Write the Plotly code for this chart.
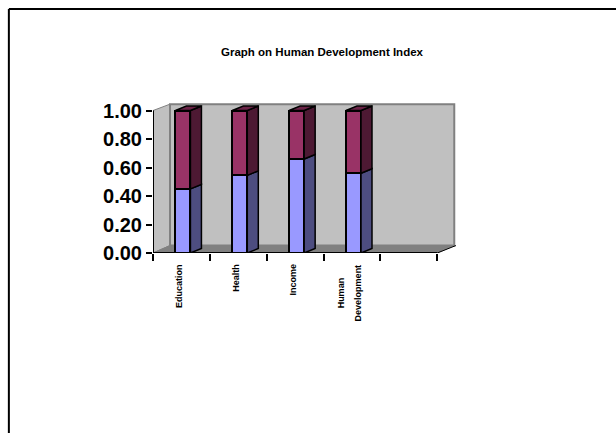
import plotly.graph_objects as go

categories = ["Education", "Health", "Income", "Human<br>Development"]
series_a = [0.45, 0.545, 0.66, 0.56]
series_b = [0.55, 0.455, 0.34, 0.44]
y_ticks = [0.0, 0.2, 0.4, 0.6, 0.8, 1.0]
slots = [0, 1, 2, 3, 4, 5]

UX, UY = 56.8, 142.8          # px per data unit
DX, DY = 11 / UX, 4.5 / UY    # bar depth
WX, WY = 17 / UX, 7.5 / UY    # wall depth
BW = 15 / UX
XMAX, YMAX = 5.4, 1.06
PW, PH = XMAX * UX, YMAX * UY
centers = [i + 0.5 + 1.5 / UX for i in range(len(categories))]

FRONT_A, SIDE_A, FRONT_B, SIDE_B, TOP_B = "#9999ff", "#4d4d80", "#993366", "#4d1933", "#6b2347"

fig = go.Figure()
fig.add_bar(x=centers, y=series_a, width=BW, marker=dict(color=FRONT_A, line=dict(color="black", width=2)), showlegend=False)
fig.add_bar(x=centers, y=series_b, width=BW, marker=dict(color=FRONT_B, line=dict(color="black", width=2)), showlegend=False)


def poly(xs, ys, color):
    fig.add_scatter(x=xs, y=ys, mode="lines", fill="toself", fillcolor=color,
                    line=dict(color="black", width=1.5), showlegend=False, hoverinfo="skip")


for c, a, b in zip(centers, series_a, series_b):
    r = c + BW / 2
    l = c - BW / 2
    poly([r, r + DX, r + DX, r, r], [0, DY, a + DY, a, 0], SIDE_A)
    poly([r, r + DX, r + DX, r, r], [a, a + DY, a + b + DY, a + b, a], SIDE_B)
    poly([l, r, r + DX, l + DX, l], [a + b, a + b, a + b + DY, a + b + DY, a + b], TOP_B)

WTOP = 1.045
shapes = [
    # side wall, back wall, floor
    dict(type="path", path=f"M 0 0 L {WX} {WY} L {WX} {WTOP} L 0 1 Z", fillcolor="#c0c0c0",
         line=dict(color="#808080", width=1), layer="below", xref="x", yref="y"),
    dict(type="rect", x0=WX, x1=5 + WX, y0=WY, y1=WTOP, fillcolor="#c0c0c0",
         line=dict(color="#808080", width=2), layer="below", xref="x", yref="y"),
    dict(type="path", path=f"M 0 0 L {WX} {WY} L {5+WX} {WY} L 5 0 Z", fillcolor="#808080",
         line=dict(color="#808080", width=1), layer="below", xref="x", yref="y"),
    # axis lines
    dict(type="line", x0=0, x1=0, y0=0, y1=1, line=dict(color="black", width=2), xref="x", yref="y", layer="above"),
    dict(type="line", x0=0, x1=5, y0=0, y1=0, line=dict(color="black", width=2), xref="x", yref="y", layer="above"),
    dict(type="line", x0=5, x1=5 + 1.1 * WX, y0=0, y1=WY, line=dict(color="black", width=1), xref="x", yref="y", layer="above"),
    # outer frame
    dict(type="line", xref="paper", yref="paper", x0=-144 / PW, x1=(616 - 153) / PW,
         y0=(253.5 - 9) / PH, y1=(253.5 - 9) / PH, line=dict(color="black", width=2)),
    dict(type="line", xref="paper", yref="paper", x0=-144 / PW, x1=-144 / PW,
         y0=(253.5 - 9) / PH, y1=(253.5 - 434) / PH, line=dict(color="black", width=2)),
]

annotations = []
for i, cat in enumerate(categories):
    lines = cat.split("<br>")
    for j, line in enumerate(lines):
        single = len(lines) == 1
        if single:
            shift, yshift_px, anchor = -2, -262, "top"
        else:
            shift, yshift_px, anchor = -3 + (j - 0.5) * 17, -293.5, "middle"
        annotations.append(dict(
            text=f"<b>{line}</b>", textangle=-90, showarrow=False,
            xref="x", yref="paper", x=i + 0.5 + shift / UX, y=(253.5 + yshift_px) / PH,
            xanchor="center", yanchor=anchor, font=dict(size=9, family="Liberation Sans", color="black"),
        ))

fig.update_layout(
    width=616, height=434, autosize=False,
    margin=dict(l=153, r=616 - 153 - PW, t=253.5 - PH, b=434 - 253.5, pad=0),
    paper_bgcolor="white", plot_bgcolor="rgba(0,0,0,0)",
    barmode="stack", showlegend=False, bargap=0,
    font=dict(family="Liberation Sans", color="black"),
    title=dict(text="<b>Graph on Human Development Index</b>", font=dict(size=11.5), x=322 / 616, xanchor="center",
               y=1 - 52 / 434, yanchor="middle"),
    shapes=shapes,
    annotations=annotations,
    xaxis=dict(range=[0, XMAX], showgrid=False, zeroline=False, showline=False,
               tickmode="array", tickvals=slots, ticktext=[""] * len(slots),
               ticks="outside", ticklen=7, tickwidth=2, tickcolor="black"),
    yaxis=dict(range=[0, YMAX], showgrid=False, zeroline=False, showline=False,
               tickmode="array", tickvals=y_ticks, ticktext=[f"<b>{v:.2f}</b>" for v in y_ticks],
               ticks="outside", ticklen=6, tickwidth=2, tickcolor="black", tickfont=dict(size=20, family="Liberation Sans")),
)

fig.write_html("out.html", config={"displayModeBar": False},
               post_script="document.body.style.margin='0';document.body.style.overflow='hidden';")
